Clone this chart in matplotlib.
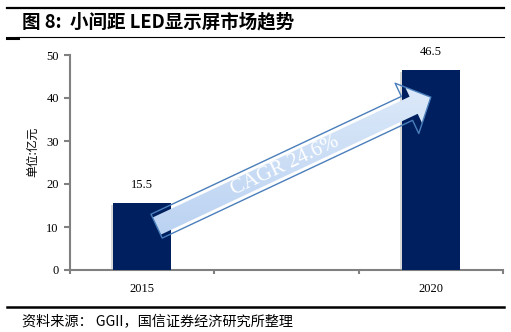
import numpy as np
import matplotlib
matplotlib.use('Agg')
import matplotlib.pyplot as plt
import matplotlib.patheffects as pe
from matplotlib.lines import Line2D
from matplotlib.patches import FancyArrowPatch
from matplotlib.colors import LinearSegmentedColormap

# data
categories = ['2015', '2020']
values = [15.5, 46.5]
yticks = [0, 10, 20, 30, 40, 50]
cagr_text = 'CAGR 24.6%'
title = '图 8:  小间距 LED显示屏市场趋势'
source = '资料来源： GGII，国信证券经济研究所整理'
ylabel = '单位:亿元'

cjk = ['Noto Sans CJK SC', 'DejaVu Sans']
num_font = 'Liberation Serif'
navy = '#001f5f'
gray = '#808080'

W, H = 511, 332
fig = plt.figure(figsize=(W / 100, H / 100), dpi=100)
ax = fig.add_axes([70 / W, 1 - 270 / H, 433 / W, 215 / H])

# bars sit in slots 0 and 2, the middle slot (2016-2019) is empty
x = np.arange(len(categories)) * 2
bars = ax.bar(x, values, width=0.4, color=navy, zorder=3)
for b in bars:
    b.set_path_effects([pe.SimplePatchShadow(offset=(-1.5, -1.5), shadow_rgbFace='#a0a0a0', alpha=0.4),
                        pe.Normal()])

for xi, v in zip(x, values):
    ax.annotate(f'{v:.1f}', (xi, v), xytext=(0, 13), textcoords='offset points',
                ha='center', va='center', fontsize=9, family=num_font)

ax.set_xlim(-0.5, 2.5)
ax.set_ylim(0, 50)
ax.set_yticks(yticks)
ax.set_xticks(np.arange(-0.5, 3, 1))
ax.set_xticklabels([])
ax.set_xticks(x, minor=True)
ax.set_xticklabels(categories, minor=True)
ax.tick_params(axis='x', which='minor', length=0, pad=9, labelsize=9)
ax.tick_params(axis='x', which='major', length=3, width=1.5, color=gray)
ax.tick_params(axis='y', length=4, width=1.5, color=gray, pad=4, labelsize=9)
for lab in ax.get_xticklabels(minor=True) + ax.get_yticklabels():
    lab.set_fontfamily(num_font)
for s in ['top', 'right']:
    ax.spines[s].set_visible(False)
for s in ['left', 'bottom']:
    ax.spines[s].set_color(gray)
    ax.spines[s].set_linewidth(1.5)

# CAGR arrow with a soft blue gradient
arrow_start = (0.1, 10.2)
arrow_end = (2.0, 40.2)
arrow = FancyArrowPatch(arrow_start, arrow_end,
                        arrowstyle='simple,head_length=19,head_width=40,tail_width=19',
                        mutation_scale=1, shrinkA=0, shrinkB=0,
                        facecolor='none', edgecolor='#4a7ebb', lw=1, zorder=5)
ax.add_patch(arrow)
cmap = LinearSegmentedColormap.from_list('blu', ['#b3cdf0', '#e3eefb'])
grad = np.linspace(0, 1, 256).reshape(-1, 1)
im = ax.imshow(grad, extent=(-0.5, 2.5, 0, 50), aspect='auto', cmap=cmap,
               origin='lower', zorder=4)
im.set_clip_path(arrow)
ax.set_xlim(-0.5, 2.5)
ax.set_ylim(0, 50)

p0 = ax.transData.transform(arrow_start)
p1 = ax.transData.transform(arrow_end)
angle = np.degrees(np.arctan2(p1[1] - p0[1], p1[0] - p0[0]))
tx = arrow_start[0] + 0.47 * (arrow_end[0] - arrow_start[0])
ty = arrow_start[1] + 0.47 * (arrow_end[1] - arrow_start[1])
ax.text(tx, ty, cagr_text, rotation=angle, rotation_mode='anchor', ha='center', va='center',
        color='white', fontsize=15, family=num_font, zorder=6)

# header / footer
fig.text(22 / W, 1 - 22 / H, title, fontsize=13.3, weight='bold', family=cjk, va='center', ha='left')
fig.text(22 / W, 1 - 322 / H, source, fontsize=10.2, family=cjk, va='center', ha='left')
fig.text(33 / W, 1 - 152 / H, ylabel, rotation=90, fontsize=8.5, family=cjk, va='center', ha='center')

fig.add_artist(Line2D([7 / W, 504 / W], [1 - 8 / H] * 2, lw=1.6, color='black'))
fig.add_artist(Line2D([17 / W, 504 / W], [1 - 37 / H] * 2, lw=0.8, color='black'))
fig.add_artist(Line2D([7 / W, 18 / W], [1 - 38 / H] * 2, lw=2.2, color='black'))
fig.add_artist(Line2D([7 / W, 504 / W], [1 - 307 / H] * 2, lw=1.8, color='black'))

fig.savefig('out.png', dpi=100)
